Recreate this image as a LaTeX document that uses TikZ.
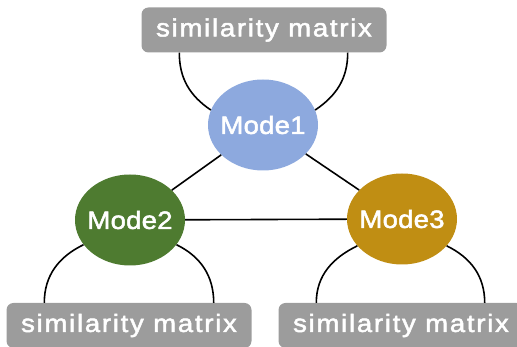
\documentclass[tikz,border=0pt]{standalone}
\usepackage{fontspec}
\setmainfont{Liberation Sans}
\newfontfamily\boxfont[FakeStretch=1.1, LetterSpace=7, FakeBold=2]{Liberation Sans}
\newfontfamily\modefont[FakeStretch=1.1, LetterSpace=1, FakeBold=2]{Liberation Sans}
\usetikzlibrary{shapes.geometric}

\definecolor{simgray}{HTML}{9C9C9C}
\definecolor{modeblue}{HTML}{8DA9DE}
\definecolor{modegreen}{HTML}{4E7B30}
\definecolor{modegold}{HTML}{C08E13}

\begin{document}
\begin{tikzpicture}[
    x=1pt, y=1pt,
    simbox/.style={rectangle, rounded corners=7pt, fill=simgray, text=white,
                minimum width=245pt, minimum height=45pt, inner sep=0pt,
                font=\boxfont\fontsize{25pt}{25pt}\selectfont},
    mode/.style={ellipse, minimum width=110pt, minimum height=91pt,
                inner sep=-6pt, text=white,
                font=\modefont\fontsize{25pt}{25pt}\selectfont},
    link/.style={line width=1.6pt, black}
]
\useasboundingbox (0,0) rectangle (517,347);

\node[simbox] (sim1) at (264,317) {similarity matrix};
\node[mode, fill=modeblue] (mode1) at (263,222) {Mode1};
\node[mode, fill=modegreen] (mode2) at (130,127) {Mode2};
\node[mode, fill=modegold] (mode3) at (402,128) {Mode3};
\node[simbox] (sim2) at (129,21.5) {similarity matrix};
\node[simbox] (sim3) at (401,21.5) {similarity matrix};

% links between the modes
\draw[link] (mode1) -- (mode2);
\draw[link] (mode1) -- (mode3);
\draw[link] (mode2) -- (mode3);

% each mode hangs on its own matrix
\draw[link] ([xshift=38pt]sim1.south west) to[out=-90, in=146] (mode1.164);
\draw[link] ([xshift=-39pt]sim1.south east) to[out=-90, in=34] (mode1.16);
\draw[link] ([xshift=38pt]sim2.north west) to[out=90, in=206] (mode2.208);
\draw[link] ([xshift=-38pt]sim2.north east) to[out=90, in=-26] (mode2.332);
\draw[link] ([xshift=38pt]sim3.north west) to[out=90, in=206] (mode3.211);
\draw[link] ([xshift=-39pt]sim3.north east) to[out=90, in=-26] (mode3.329);

\end{tikzpicture}
\end{document}
